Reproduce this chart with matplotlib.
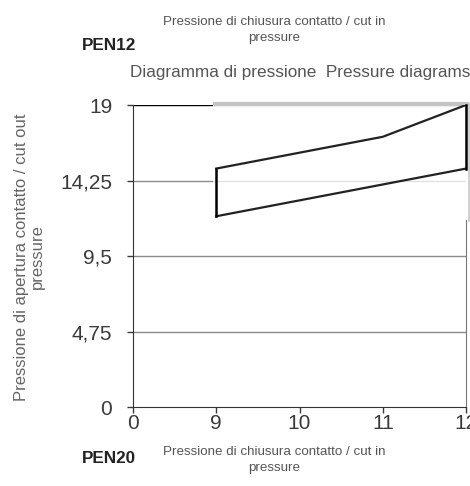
import matplotlib.pyplot as plt
from matplotlib.patches import Rectangle

plt.rcParams['font.family'] = ['Liberation Sans', 'DejaVu Sans']

# categorie asse x e valori
categories = ['0', '9', '10', '11', '12']
cut_in = [None, 15, 16, 17, 19]      # pressione di chiusura
cut_out = [None, 12, 13, 14, 15]     # pressione di apertura
y_ticks = [0, 4.75, 9.5, 14.25, 19]
y_labels = ['0', '4,75', '9,5', '14,25', '19']

fig = plt.figure(figsize=(4.7, 4.86), dpi=100)
ax = fig.add_axes([133/470, 79/486, 333/470, 302/486])

xs = list(range(len(categories)))
ax.set_xlim(0, len(categories) - 1)
ax.set_ylim(0, 19)

# griglia orizzontale
for v in y_ticks[1:-1]:
    ax.axhline(v, color='#8a8a8a', lw=1, zorder=1)
ax.axhline(19, color='black', lw=1, zorder=1)

# riquadro bianco dietro alle curve (come nell'originale)
box = Rectangle((0.965, 11.75), 3.07, 7.3, facecolor='white', alpha=0.75,
                edgecolor='none', zorder=2, clip_on=False)
ax.add_patch(box)
ax.plot([0.965, 4.035], [19.05, 19.05], color='#c4c4c4', lw=3, zorder=3,
        clip_on=False, solid_capstyle='butt')
ax.plot([4.035, 4.035], [11.75, 19.05], color='#cfcfcf', lw=2, zorder=3,
        clip_on=False)

px = xs[1:]
ax.plot(px, cut_in[1:], color='#222222', lw=1.6, zorder=4)
ax.plot(px, cut_out[1:], color='#222222', lw=1.6, zorder=4)
ax.plot([px[0], px[0]], [cut_out[1], cut_in[1]], color='black', lw=1.8, zorder=4)
ax.plot([px[-1], px[-1]], [cut_out[-1], cut_in[-1]], color='black', lw=1.8,
        zorder=4, clip_on=False)

ax.set_xticks(xs)
ax.set_xticklabels(categories)
ax.set_yticks(y_ticks)
ax.set_yticklabels(y_labels)
ax.tick_params(axis='both', labelsize=15, colors='#3a3a3a', length=4, width=1)
ax.tick_params(axis='y', pad=11)
ax.tick_params(axis='x', pad=1)

for s in ['left', 'bottom']:
    ax.spines[s].set_color('#333333')
ax.spines['top'].set_visible(False)
ax.spines['right'].set_color('#777777')
ax.spines['right'].set_bounds(0, 11.75)

fig.text(29/470, 1 - 257/486, 'Pressione di apertura contatto / cut out\npressure',
         rotation=90, ha='center', va='center', fontsize=12, color='#666666',
         linespacing=1.08, multialignment='center')

fig.text(274/470, 1 - 30/486, 'Pressione di chiusura contatto / cut in\npressure',
         ha='center', va='center', fontsize=9.6, color='#555555', linespacing=1.4)
fig.text(82/470, 1 - 46/486, 'PEN12', ha='left', va='center', fontsize=12.3,
         fontweight='bold', color='#222222')
fig.text(130/470, 1 - 72/486, 'Diagramma di pressione  Pressure diagrams',
         ha='left', va='center', fontsize=12.3, color='#555555')
fig.text(82/470, 1 - 458/486, 'PEN20', ha='left', va='center', fontsize=12.3,
         fontweight='bold', color='#222222')
fig.text(274/470, 1 - 460/486, 'Pressione di chiusura contatto / cut in\npressure',
         ha='center', va='center', fontsize=9.6, color='#555555', linespacing=1.4)

fig.savefig('out.png', dpi=100)
